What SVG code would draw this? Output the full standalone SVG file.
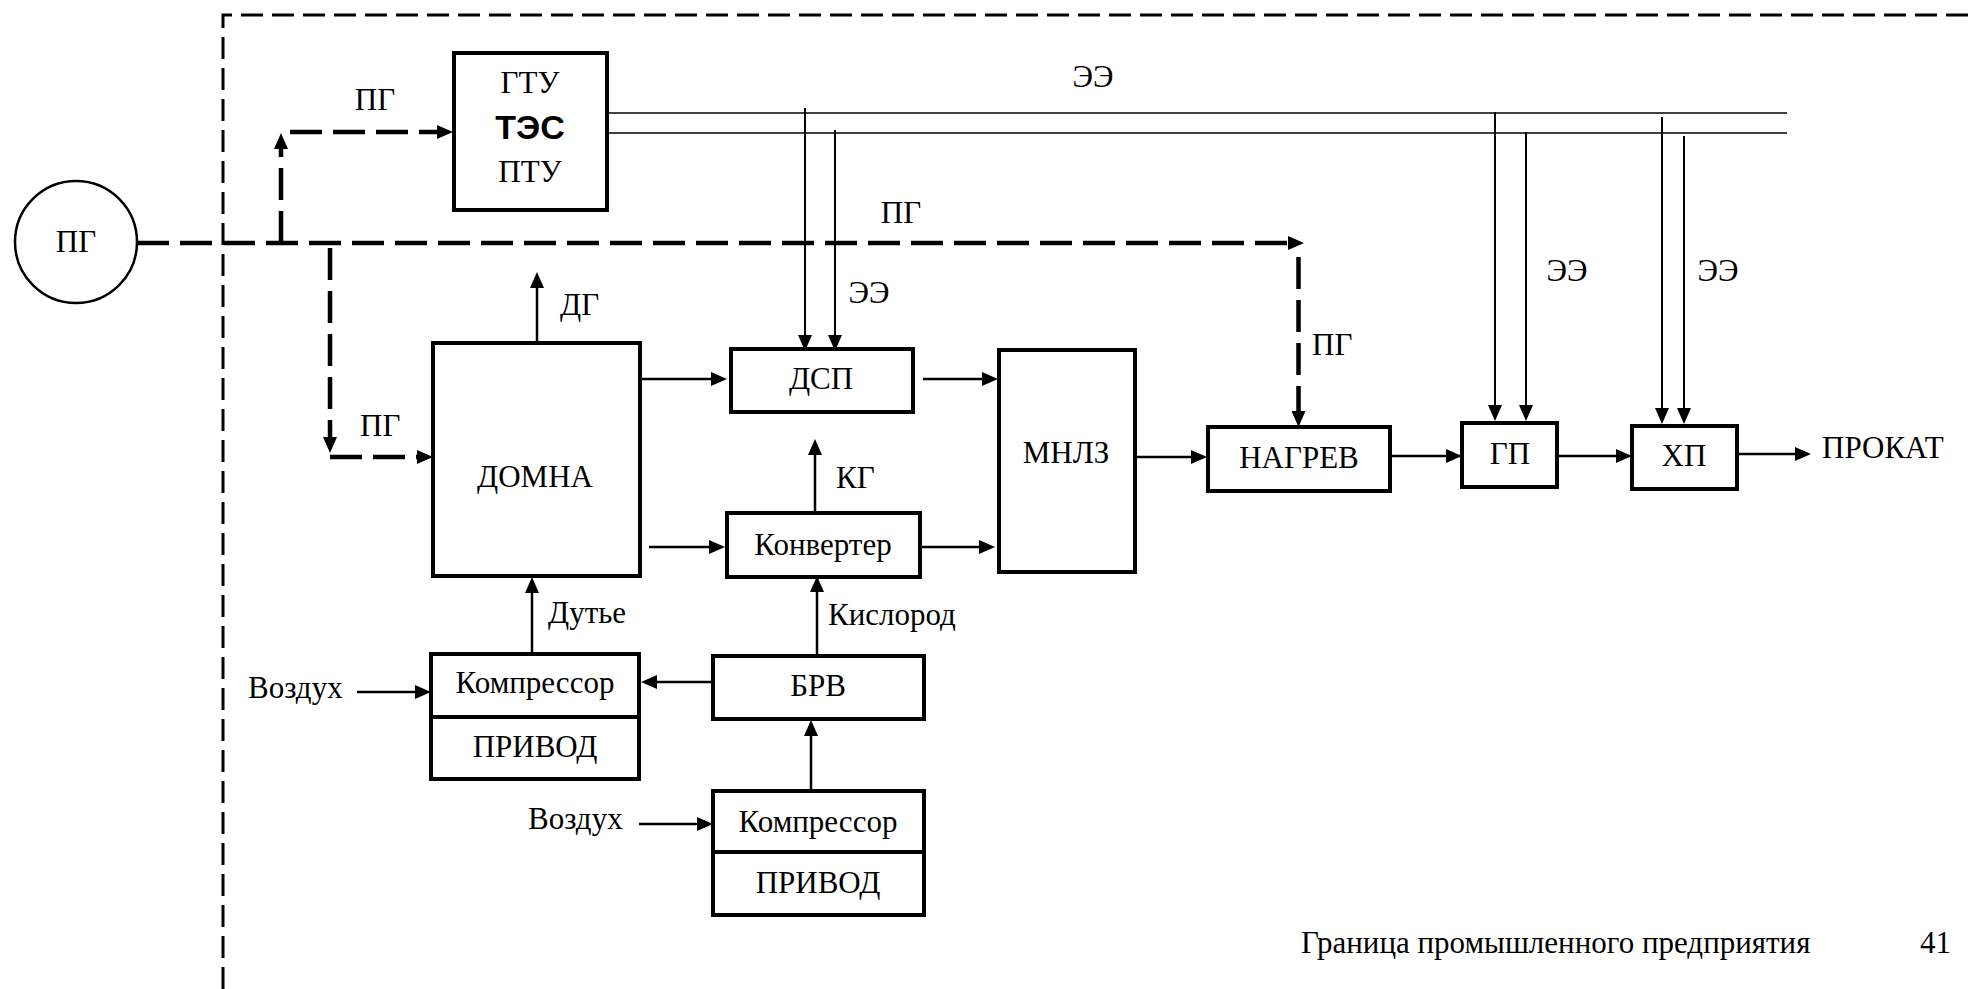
<svg xmlns="http://www.w3.org/2000/svg" width="1968" height="989" viewBox="0 0 1968 989">
<defs>
<marker id="ah" markerUnits="userSpaceOnUse" markerWidth="16" markerHeight="14" refX="6" refY="7" orient="auto"><path d="M0,0 L16,7 L0,14 z" fill="#000"/></marker>
<style>
text{font-family:"Liberation Serif","Times New Roman",serif;font-size:31px;fill:#000}
.c{text-anchor:middle}
.box{fill:#fff;stroke:#000;stroke-width:4}
.ln{fill:none;stroke:#000;stroke-width:2.5;marker-end:url(#ah)}
.ee{fill:none;stroke:#000;stroke-width:2;marker-end:url(#ah)}
.bus{fill:none;stroke:#000;stroke-width:1.5}
.pg{fill:none;stroke:#000;stroke-width:4.5;stroke-dasharray:32 11;marker-end:url(#ah)}
.border{fill:none;stroke:#000;stroke-width:3;stroke-dasharray:22 9}
.bold{font-family:"Liberation Sans",Arial,sans-serif;font-weight:bold;font-size:34px}
</style>
</defs>
<rect width="1968" height="989" fill="#fff"/>
<path class="border" d="M223,989 V15 H1968"/>

<g id="connectors">
<path class="bus" d="M609,113 H1787"/>
<path class="bus" d="M609,133 H1787"/>
<path class="pg" d="M137,243 H1294"/>
<path class="pg" d="M281,243 V143"/>
<path class="pg" d="M290,132 H443"/>
<path class="pg" d="M330,248 V443"/>
<path class="pg" d="M330,457 H423"/>
<path class="pg" d="M1298.5,257 V417"/>
<path class="ee" d="M805,108 V341"/>
<path class="ee" d="M835,130 V341"/>
<path class="ee" d="M1495,112 V411"/>
<path class="ee" d="M1526,132 V411"/>
<path class="ee" d="M1662,117 V414"/>
<path class="ee" d="M1684,136 V414"/>
<path class="ln" d="M537,343 V282"/>
<path class="ln" d="M640,379 H717"/>
<path class="ln" d="M923,379 H988"/>
<path class="ln" d="M649,547 H715"/>
<path class="ln" d="M920,547 H985"/>
<path class="ln" d="M815,513 V449"/>
<path class="ln" d="M817,656 V586"/>
<path class="ln" d="M532,654 V587"/>
<path class="ln" d="M713,682 H651"/>
<path class="ln" d="M357,692 H421"/>
<path class="ln" d="M639,824 H703"/>
<path class="ln" d="M811,791 V730"/>
<path class="ln" d="M1129,457 H1197"/>
<path class="ln" d="M1391,456 H1452"/>
<path class="ln" d="M1557,456 H1622"/>
<path class="ln" d="M1737,454 H1801"/>
</g>

<g id="labels">
<text class="c" x="375" y="110">ПГ</text>
<text class="c" x="1093" y="87">ЭЭ</text>
<text class="c" x="901" y="223">ПГ</text>
<text class="c" x="869" y="303">ЭЭ</text>
<text class="c" x="1567" y="281">ЭЭ</text>
<text class="c" x="1718" y="281">ЭЭ</text>
<text x="560" y="315">ДГ</text>
<text x="1312" y="355">ПГ</text>
<text x="360" y="436">ПГ</text>
<text x="836" y="488">КГ</text>
<text x="548" y="623">Дутье</text>
<text x="828" y="625">Кислород</text>
<text x="248" y="698">Воздух</text>
<text x="528" y="829">Воздух</text>
<text x="1822" y="458">ПРОКАТ</text>
<text x="1301" y="953">Граница промышленного предприятия</text>
<text x="1920" y="953">41</text>
</g>

<g id="node-pg">
<circle cx="76" cy="242" r="61" fill="#fff" stroke="#000" stroke-width="2.5"/>
<text class="c" x="76" y="252">ПГ</text>
</g>
<g id="node-tes">
<rect class="box" x="454" y="53" width="153" height="157"/>
<text class="c" x="530" y="93">ГТУ</text>
<text class="c bold" x="530" y="139">ТЭС</text>
<text class="c" x="530" y="182">ПТУ</text>
</g>
<g id="node-domna">
<rect class="box" x="433" y="343" width="207" height="233"/>
<text class="c" x="535" y="487">ДОМНА</text>
</g>
<g id="node-dsp">
<rect class="box" x="731" y="349" width="182" height="63"/>
<text class="c" x="821" y="389">ДСП</text>
</g>
<g id="node-converter">
<rect class="box" x="727" y="513" width="193" height="64"/>
<text class="c" x="823" y="555">Конвертер</text>
</g>
<g id="node-mnlz">
<rect class="box" x="999" y="350" width="136" height="222"/>
<text class="c" x="1066" y="463">МНЛЗ</text>
</g>
<g id="node-nagrev">
<rect class="box" x="1208" y="427" width="182" height="64"/>
<text class="c" x="1299" y="468">НАГРЕВ</text>
</g>
<g id="node-gp">
<rect class="box" x="1462" y="423" width="95" height="64"/>
<text class="c" x="1510" y="464">ГП</text>
</g>
<g id="node-hp">
<rect class="box" x="1632" y="426" width="105" height="63"/>
<text class="c" x="1684" y="466">ХП</text>
</g>
<g id="node-compressor1">
<rect class="box" x="431" y="654" width="208" height="125"/>
<line x1="431" y1="717" x2="639" y2="717" stroke="#000" stroke-width="4"/>
<text class="c" x="535" y="693">Компрессор</text>
<text class="c" x="535" y="757">ПРИВОД</text>
</g>
<g id="node-brv">
<rect class="box" x="713" y="656" width="211" height="63"/>
<text class="c" x="818" y="696">БРВ</text>
</g>
<g id="node-compressor2">
<rect class="box" x="713" y="791" width="211" height="124"/>
<line x1="713" y1="852" x2="924" y2="852" stroke="#000" stroke-width="4"/>
<text class="c" x="818" y="832">Компрессор</text>
<text class="c" x="818" y="893">ПРИВОД</text>
</g>
</svg>
